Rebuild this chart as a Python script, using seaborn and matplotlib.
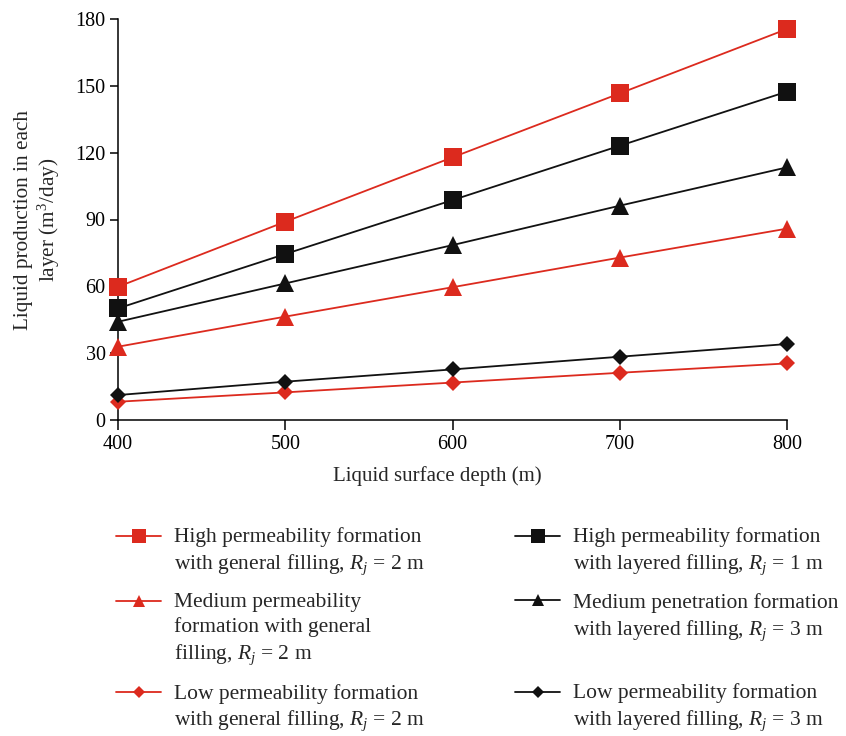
import numpy as np
import pandas as pd
import matplotlib
matplotlib.use("Agg")
import matplotlib.pyplot as plt
import seaborn as sns
from matplotlib.legend_handler import HandlerLine2D

# ---------------- data ----------------
depth = [400, 500, 600, 700, 800]
high_general = [59.8, 89.0, 117.9, 146.6, 175.5]
medium_general = [32.9, 46.4, 59.6, 72.9, 85.9]
low_general = [8.2, 12.4, 16.8, 21.2, 25.4]
high_layered = [50.1, 74.5, 98.7, 123.1, 147.4]
medium_layered = [44.1, 61.3, 78.5, 96.2, 113.4]
low_layered = [11.2, 17.2, 22.7, 28.4, 34.1]

labels = [
    "High permeability formation\nwith general filling, $R_j$ = 2 m",
    "Medium permeability\nformation with general\nfilling, $R_j$ = 2 m",
    "Low permeability formation\nwith general filling, $R_j$ = 2 m",
    "High permeability formation\nwith layered filling, $R_j$ = 1 m",
    "Medium penetration formation\nwith layered filling, $R_j$ = 3 m\n ",
    "Low permeability formation\nwith layered filling, $R_j$ = 3 m",
]
series = [high_general, medium_general, low_general,
          high_layered, medium_layered, low_layered]
y_ticks = [0, 30, 60, 90, 120, 150, 180]
x_ticks = [400, 500, 600, 700, 800]

# ---------------- style ----------------
RED = "#DC2A1E"
BLACK = "#111111"
colors = [RED, RED, RED, BLACK, BLACK, BLACK]
markers = ["s", "^", "D", "s", "^", "D"]
msizes = [13, 12.5, 8.5, 13, 12.5, 8.5]
leg_ms = [9.5, 9, 6.5, 9.5, 9, 6.5]

sns.set_theme(style="ticks")
plt.rcParams["font.family"] = ["Liberation Serif", "DejaVu Serif"]
plt.rcParams["mathtext.fontset"] = "custom"
plt.rcParams["mathtext.rm"] = "Liberation Serif"
plt.rcParams["mathtext.it"] = "Liberation Serif:italic"

fig = plt.figure(figsize=(8.46, 7.36), dpi=100)
ax = fig.add_axes([118 / 846, 1 - 420 / 736, 669 / 846, 401 / 736])

rows = []
for lab, vals in zip(labels, series):
    for d, v in zip(depth, vals):
        rows.append({"depth": d, "value": v, "series": lab})
df = pd.DataFrame(rows)

lines = []
for lab, c, m, ms in zip(labels, colors, markers, msizes):
    sub = df[df["series"] == lab]
    sns.lineplot(data=sub, x="depth", y="value", ax=ax, color=c, marker=m,
                 markersize=ms, markeredgewidth=0, linewidth=1.3,
                 clip_on=False, label=lab, legend=False, zorder=3)
    lines.append(ax.lines[-1])

ax.set_xlim(400, 800)
ax.set_ylim(0, 180)
ax.set_xticks(x_ticks)
ax.set_yticks(y_ticks)
sns.despine(ax=ax)
for s in ["left", "bottom"]:
    ax.spines[s].set_linewidth(1.1)
    ax.spines[s].set_color("black")
ax.tick_params(axis="both", direction="out", length=6, width=1.1,
               colors="black", labelsize=14.5, pad=3)
ax.tick_params(axis="x", length=7, pad=4)

ax.set_xlabel("Liquid surface depth (m)", fontsize=15)
ax.xaxis.set_label_coords(0.478, -0.115)
ax.set_ylabel("Liquid production in each\nlayer (m$^3$/day)", fontsize=15.3,
              linespacing=1.15)
ax.yaxis.set_label_coords(-0.083, 0.5)


class ShiftedHandler(HandlerLine2D):
    def __init__(self, yoff=0.0, ms=8, **kw):
        super().__init__(**kw)
        self.yoff = yoff
        self.ms = ms

    def create_artists(self, legend, orig_handle, xdescent, ydescent,
                       width, height, fontsize, trans):
        arts = super().create_artists(legend, orig_handle, xdescent, ydescent,
                                      width, height, fontsize, trans)
        for a in arts:
            a.set_ydata(np.asarray(a.get_ydata()) + self.yoff)
            a.set_markersize(self.ms)
        return arts


LINE_STEP = 19.5  # points
nlines = [lab.count("\n") + 1 for lab in labels]
hmap = {ln: ShiftedHandler(yoff=(n - 1) / 2 * LINE_STEP + 1.5, ms=lm)
        for ln, n, lm in zip(lines, nlines, leg_ms)}

leg = fig.legend(lines, labels, handler_map=hmap, ncol=2,
                 loc="upper left", bbox_to_anchor=(116 / 846, 1 - 527 / 736),
                 frameon=False, fontsize=15.5, handlelength=2.1,
                 handletextpad=0.6, columnspacing=4.2, labelspacing=0.78,
                 borderpad=0, borderaxespad=0)
for t in leg.get_texts():
    t.set_linespacing(1.32)

fig.savefig("out.png", dpi=100)
